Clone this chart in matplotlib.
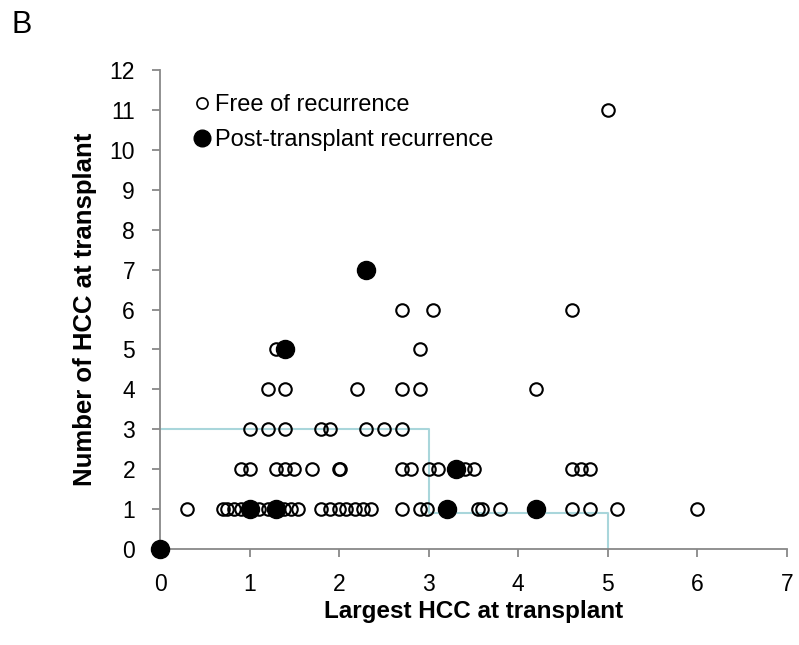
import matplotlib
matplotlib.use("Agg")
import matplotlib.pyplot as plt
from matplotlib.lines import Line2D

plt.rcParams['font.family'] = ['Liberation Sans', 'DejaVu Sans']

# Free of recurrence (open circles)
free_x = [0.3, 0.7, 0.75, 0.83, 0.9, 1.1, 1.2, 1.38, 1.46, 1.54, 1.8, 1.9, 2.0, 2.08, 2.18, 2.27, 2.36,
          2.7, 2.9, 2.98, 3.55, 3.6, 3.8, 4.6, 4.8, 5.1, 6.0,
          0.9, 1.0, 1.3, 1.4, 1.5, 1.7, 2.0, 2.01, 2.7, 2.8, 3.0, 3.1, 3.4, 3.5, 4.6, 4.7, 4.8,
          1.0, 1.2, 1.4, 1.8, 1.9, 2.3, 2.5, 2.7,
          1.2, 1.4, 2.2, 2.7, 2.9, 4.2,
          1.3, 2.9,
          2.7, 3.05, 4.6,
          5.0]
free_y = [1] * 27 + [2] * 17 + [3] * 8 + [4] * 6 + [5] * 2 + [6] * 3 + [11]

# Post-transplant recurrence (filled circles)
rec_x = [0.0, 1.0, 1.3, 3.2, 4.2, 3.3, 1.4, 2.3]
rec_y = [0, 1, 1, 1, 1, 2, 5, 7]

# Reference boundary line
ref_x = [0, 3, 3, 5, 5]
ref_y = [3, 3, 0.9, 0.9, 0]

x_ticks = list(range(0, 8))
y_ticks = list(range(0, 13))

fig = plt.figure(figsize=(7.99, 6.45), dpi=100)
ax = fig.add_axes([0.2003, 0.1488, 0.7847, 0.7427])

ax.plot(ref_x, ref_y, color='#a9d6db', lw=1.5, zorder=1, clip_on=False)
ax.plot(free_x, free_y, linestyle='none', marker='o', markersize=9,
        markerfacecolor='none', markeredgecolor='black', markeredgewidth=1.5, zorder=2)
ax.plot(rec_x, rec_y, linestyle='none', marker='o', markersize=13,
        markerfacecolor='black', markeredgecolor='black', zorder=3, clip_on=False)

ax.set_xlim(0, 7)
ax.set_ylim(0, 12)
ax.set_xticks(x_ticks)
ax.set_yticks(y_ticks)
for s in ['top', 'right']:
    ax.spines[s].set_visible(False)
for s in ['left', 'bottom']:
    ax.spines[s].set_color('#888888')
    ax.spines[s].set_linewidth(1.3)
ax.tick_params(direction='out', length=6, width=1.3, color='#888888', labelsize=16.5)
ax.tick_params(axis='x', pad=11)
ax.tick_params(axis='y', pad=12)

ax.set_xlabel('Largest HCC at transplant', fontsize=17.5, fontweight='bold', labelpad=3)
ax.set_ylabel('Number of HCC at transplant', fontsize=18.5, fontweight='bold', labelpad=9)

handles = [Line2D([], [], linestyle='none', marker='o', markersize=8, markerfacecolor='none',
                  markeredgecolor='black', markeredgewidth=1.2),
           Line2D([], [], linestyle='none', marker='o', markersize=12, markerfacecolor='black',
                  markeredgecolor='black')]
ax.legend(handles, ['Free of recurrence', 'Post-transplant recurrence'], loc='upper left',
          bbox_to_anchor=(0.037, 0.975), frameon=False, fontsize=17, handlelength=0.6,
          handletextpad=0.25, labelspacing=0.58, borderpad=0)

fig.text(0.015, 0.961, 'B', fontsize=22, ha='left', va='center')

fig.savefig('out.png', dpi=100)
